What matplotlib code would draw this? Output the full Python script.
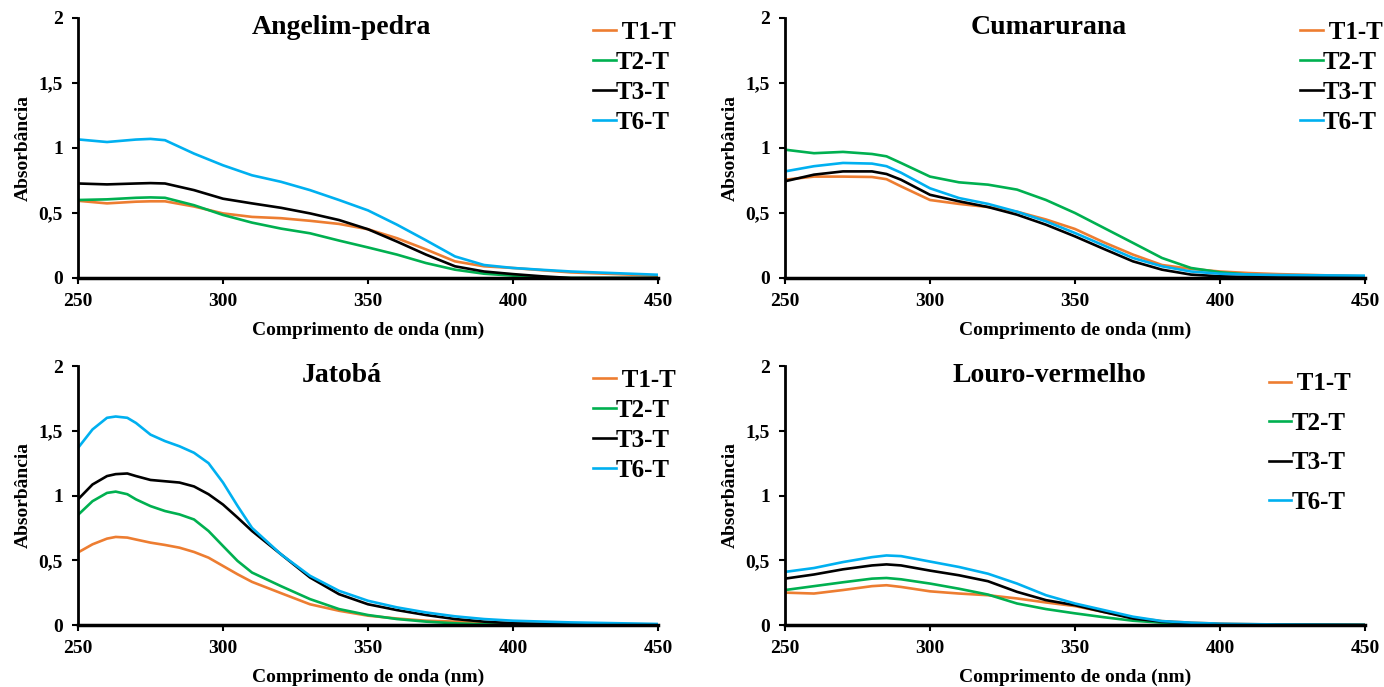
import numpy as np
import matplotlib
matplotlib.use("Agg")
import matplotlib.pyplot as plt
from matplotlib.ticker import FuncFormatter

plt.rcParams['font.family'] = ['Liberation Serif', 'DejaVu Serif']
plt.rcParams['font.weight'] = 'bold'

# ---- data ----
# Angelim-pedra
ap_x = [250, 260, 270, 275, 280, 290, 300, 310, 320, 330, 340, 350, 360, 370, 380, 390, 400, 410, 420, 450]
ap_t1 = [0.594, 0.574, 0.587, 0.59, 0.59, 0.55, 0.497, 0.47, 0.46, 0.44, 0.416, 0.375, 0.306, 0.22, 0.128, 0.09, 0.077, 0.06, 0.043, 0.018]
ap_t2 = [0.6, 0.605, 0.617, 0.62, 0.617, 0.56, 0.485, 0.426, 0.38, 0.344, 0.288, 0.235, 0.18, 0.115, 0.064, 0.033, 0.018, 0.005, 0.0, 0.0]
ap_t3 = [0.727, 0.72, 0.727, 0.73, 0.727, 0.676, 0.61, 0.574, 0.54, 0.497, 0.446, 0.375, 0.28, 0.18, 0.09, 0.05, 0.03, 0.013, 0.0, 0.0]
ap_t6 = [1.066, 1.046, 1.065, 1.07, 1.06, 0.957, 0.867, 0.79, 0.74, 0.676, 0.6, 0.52, 0.41, 0.29, 0.166, 0.1, 0.077, 0.063, 0.05, 0.025]

# Cumarurana
cu_x = [250, 260, 270, 280, 285, 290, 300, 310, 320, 330, 340, 350, 360, 370, 380, 390, 400, 410, 420, 450]
cu_t1 = [0.756, 0.78, 0.78, 0.777, 0.76, 0.705, 0.6, 0.57, 0.546, 0.51, 0.45, 0.377, 0.274, 0.18, 0.1, 0.07, 0.05, 0.038, 0.03, 0.013]
cu_t2 = [0.987, 0.96, 0.97, 0.954, 0.936, 0.885, 0.78, 0.736, 0.718, 0.68, 0.6, 0.5, 0.385, 0.27, 0.154, 0.077, 0.044, 0.026, 0.013, 0.0]
cu_t3 = [0.744, 0.795, 0.82, 0.82, 0.8, 0.756, 0.64, 0.59, 0.546, 0.487, 0.41, 0.32, 0.223, 0.128, 0.064, 0.026, 0.013, 0.008, 0.005, 0.005]
cu_t6 = [0.82, 0.86, 0.885, 0.88, 0.86, 0.81, 0.69, 0.615, 0.57, 0.51, 0.436, 0.346, 0.25, 0.154, 0.09, 0.05, 0.033, 0.027, 0.023, 0.018]

# Jatobá
ja_x = [250, 255, 260, 263, 267, 270, 275, 280, 285, 290, 295, 300, 305, 310, 320, 330, 340, 350, 360, 370, 380, 390, 400, 420, 450]
ja_t1 = [0.56, 0.623, 0.667, 0.68, 0.675, 0.66, 0.636, 0.618, 0.597, 0.564, 0.52, 0.456, 0.392, 0.333, 0.246, 0.16, 0.11, 0.072, 0.05, 0.033, 0.026, 0.02, 0.015, 0.01, 0.005]
ja_t2 = [0.85, 0.956, 1.02, 1.03, 1.01, 0.97, 0.918, 0.88, 0.854, 0.815, 0.726, 0.61, 0.495, 0.405, 0.3, 0.2, 0.123, 0.077, 0.046, 0.026, 0.013, 0.005, 0.003, 0.0, 0.0]
ja_t3 = [0.97, 1.085, 1.15, 1.165, 1.17, 1.15, 1.12, 1.11, 1.1, 1.07, 1.01, 0.93, 0.83, 0.726, 0.546, 0.367, 0.238, 0.16, 0.115, 0.077, 0.046, 0.026, 0.013, 0.005, 0.003]
ja_t6 = [1.367, 1.51, 1.6, 1.61, 1.6, 1.56, 1.47, 1.42, 1.38, 1.33, 1.25, 1.1, 0.92, 0.75, 0.546, 0.38, 0.264, 0.187, 0.136, 0.097, 0.067, 0.046, 0.033, 0.02, 0.008]

# Louro-vermelho
lv_x = [250, 260, 270, 280, 285, 290, 300, 310, 320, 330, 340, 350, 360, 370, 380, 390, 400, 420, 450]
lv_t1 = [0.25, 0.243, 0.27, 0.3, 0.307, 0.294, 0.26, 0.243, 0.23, 0.205, 0.174, 0.146, 0.1, 0.056, 0.03, 0.018, 0.01, 0.003, 0.0]
lv_t2 = [0.27, 0.3, 0.33, 0.358, 0.363, 0.353, 0.32, 0.28, 0.235, 0.166, 0.123, 0.09, 0.06, 0.033, 0.018, 0.01, 0.005, 0.002, 0.0]
lv_t3 = [0.358, 0.39, 0.43, 0.46, 0.468, 0.46, 0.42, 0.384, 0.338, 0.256, 0.192, 0.153, 0.1, 0.05, 0.026, 0.013, 0.006, 0.002, 0.0]
lv_t6 = [0.41, 0.44, 0.486, 0.524, 0.537, 0.532, 0.49, 0.448, 0.396, 0.32, 0.23, 0.166, 0.115, 0.064, 0.03, 0.018, 0.01, 0.004, 0.0]

labels = [" T1-T", "T2-T", "T3-T", "T6-T"]
colors = ["#ED7D31", "#00B050", "#000000", "#00B0F0"]

panels = [
    ("Angelim-pedra", ap_x, [ap_t1, ap_t2, ap_t3, ap_t6]),
    ("Cumarurana", cu_x, [cu_t1, cu_t2, cu_t3, cu_t6]),
    ("Jatobá", ja_x, [ja_t1, ja_t2, ja_t3, ja_t6]),
    ("Louro-vermelho", lv_x, [lv_t1, lv_t2, lv_t3, lv_t6]),
]

# axes rectangles in figure fractions
W, H = 1384, 687
rects = [
    (78 / W, 1 - 278 / H, 580 / W, 260 / H),
    (785 / W, 1 - 278 / H, 580 / W, 260 / H),
    (78 / W, 1 - 625 / H, 580 / W, 259 / H),
    (785 / W, 1 - 625 / H, 580 / W, 259 / H),
]

fig = plt.figure(figsize=(W / 100, H / 100), dpi=100)

comma = FuncFormatter(lambda v, p: ("%g" % v).replace(".", ","))

for i, (title, x, ys) in enumerate(panels):
    ax = fig.add_axes(rects[i])
    for y, lab, c in zip(ys, labels, colors):
        ax.plot(x, y, color=c, lw=1.9, label=lab)
    ax.set_xlim(250, 450)
    ax.set_ylim(0, 2)
    ax.set_xticks([250, 300, 350, 400, 450])
    ax.set_yticks([0, 0.5, 1, 1.5, 2])
    ax.yaxis.set_major_formatter(comma)
    for s in ["top", "right"]:
        ax.spines[s].set_visible(False)
    ax.spines["left"].set_linewidth(2)
    ax.spines["bottom"].set_linewidth(2.5)
    ax.tick_params(direction="out", length=4, width=1.5, labelsize=14)
    ax.tick_params(axis="x", pad=7)
    ax.tick_params(axis="y", pad=7)
    ax.set_xlabel("Comprimento de onda (nm)", fontsize=14, fontweight="bold", labelpad=8)
    ax.set_ylabel("Absorbância", fontsize=14, fontweight="bold", labelpad=5)
    ax.text(0.455, 0.962, title, transform=ax.transAxes, ha="center", va="center",
            fontsize=20, fontweight="bold")
    if i == 3:
        leg = ax.legend(loc="upper left", bbox_to_anchor=(0.834, 0.975), frameon=False,
                        fontsize=18, handlelength=0.9, handletextpad=0.0, labelspacing=0.66,
                        borderaxespad=0, borderpad=0)
    else:
        leg = ax.legend(loc="upper left", bbox_to_anchor=(0.888, 0.99), frameon=False,
                        fontsize=18, handlelength=0.9, handletextpad=0.0, labelspacing=0.28,
                        borderaxespad=0, borderpad=0)
    for t in leg.get_texts():
        t.set_fontweight("bold")

fig.savefig("out.png", dpi=100)
